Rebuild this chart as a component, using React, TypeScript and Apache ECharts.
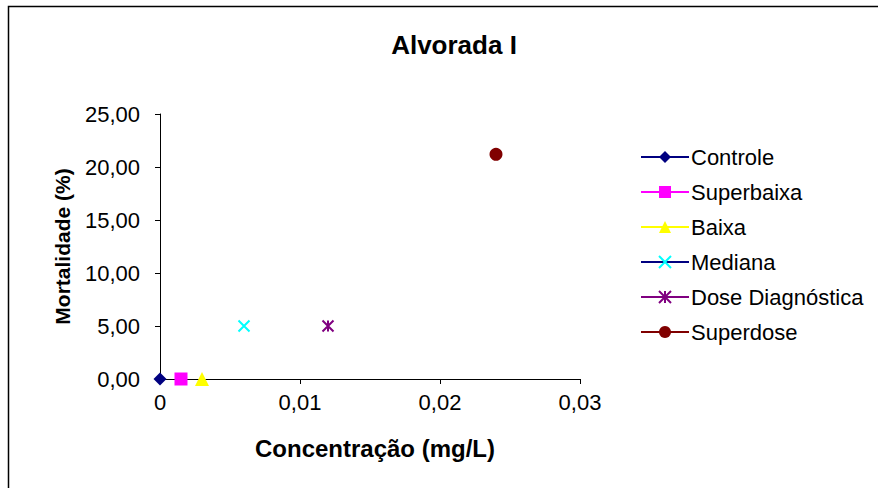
import React, { useEffect, useRef } from "react";
import * as echarts from "echarts";

const titleText = "Alvorada I";
const xAxisName = "Concentração (mg/L)";
const yAxisName = "Mortalidade (%)";
const seriesNames = ["Controle", "Superbaixa", "Baixa", "Mediana", "Dose Diagnóstica", "Superdose"];
const xValues = [0, 0.0015, 0.003, 0.006, 0.012, 0.024];
const yValues = [0, 0, 0, 5, 5, 21.2];
const markerColors = ["#000080", "#FF00FF", "#FFFF00", "#00FFFF", "#800080", "#800000"];
const lineColors = ["#000080", "#FF00FF", "#FFFF00", "#000080", "#800080", "#800000"];
const symbols = [
  "diamond",
  "rect",
  "triangle",
  "path://M0,0L10,10M10,0L0,10",
  "path://M0,0L10,10M10,0L0,10M5,0L5,10",
  "circle",
];
const symbolSizes = [13, 13, 14, 11, 11, 13];
const stroked = [false, false, false, true, true, false];

const fmt = (v: number, d: number) => v.toFixed(d).replace(".", ",");

export default function App() {
  const ref = useRef<HTMLDivElement>(null);
  useEffect(() => {
    if (!ref.current) return;
    const chart = echarts.init(ref.current, null, { renderer: "svg" });
    const font = "Liberation Sans, Arial, sans-serif";
    chart.setOption({
      animation: false,
      backgroundColor: "#ffffff",
      textStyle: { fontFamily: font },
      title: {
        text: titleText,
        left: 449,
        top: 27,
        textAlign: "center",
        textStyle: { fontFamily: font, fontWeight: "bold", fontSize: 26, color: "#000" },
      },
      graphic: [
        {
          type: "rect",
          shape: { x: 8.5, y: 6.5, width: 900, height: 520 },
          style: { fill: "none", stroke: "#000", lineWidth: 1.5 },
          silent: true,
        },
      ],
      grid: { left: 160, top: 114, right: 298, bottom: 109, containLabel: false },
      legend: {
        orient: "vertical",
        left: 640,
        top: 146,
        padding: 0,
        itemWidth: 48,
        itemHeight: 15,
        itemGap: 13,
        data: seriesNames,
        lineStyle: { width: 2 },
        textStyle: { fontFamily: font, fontSize: 22, color: "#000", lineHeight: 22, padding: [0, 0, 0, -3] },
      },
      xAxis: {
        type: "value",
        min: 0,
        max: 0.03,
        interval: 0.01,
        name: xAxisName,
        nameLocation: "middle",
        nameGap: 57,
        nameTextStyle: { fontFamily: font, fontWeight: "bold", fontSize: 24, color: "#000", padding: [0, 0, 0, 10] },
        axisLine: { show: true, onZero: false, lineStyle: { color: "#000", width: 1 } },
        axisTick: { show: true, inside: false, length: 5, lineStyle: { color: "#000" } },
        axisLabel: {
          fontFamily: font,
          fontSize: 22,
          color: "#000",
          margin: 12,
          formatter: (v: number) => (v === 0 ? "0" : fmt(v, 2)),
        },
        splitLine: { show: false },
      },
      yAxis: {
        type: "value",
        min: 0,
        max: 25,
        interval: 5,
        name: yAxisName,
        nameLocation: "middle",
        nameRotate: 90,
        nameGap: 87,
        nameTextStyle: { fontFamily: font, fontWeight: "bold", fontSize: 21, color: "#000" },
        axisLine: { show: true, lineStyle: { color: "#000", width: 1 } },
        axisTick: { show: true, inside: false, length: 5, lineStyle: { color: "#000" } },
        axisLabel: {
          fontFamily: font,
          fontSize: 22,
          color: "#000",
          margin: 20,
          formatter: (v: number) => fmt(v, 2),
        },
        splitLine: { show: false },
      },
      series: seriesNames.map((name, i) => ({
        name,
        type: "line",
        data: [[xValues[i], yValues[i]]],
        symbol: symbols[i],
        symbolSize: symbolSizes[i],
        showSymbol: true,
        clip: false,
        z: 3,
        lineStyle: { color: lineColors[i], width: 2 },
        itemStyle: stroked[i]
          ? { color: "rgba(0,0,0,0)", borderColor: markerColors[i], borderWidth: 2 }
          : { color: markerColors[i], borderWidth: 0 },
      })),
    });
    return () => chart.dispose();
  }, []);
  return (
    <div
      ref={ref}
      style={{ position: "fixed", left: 0, top: 0, width: 878, height: 488 }}
    />
  );
}
